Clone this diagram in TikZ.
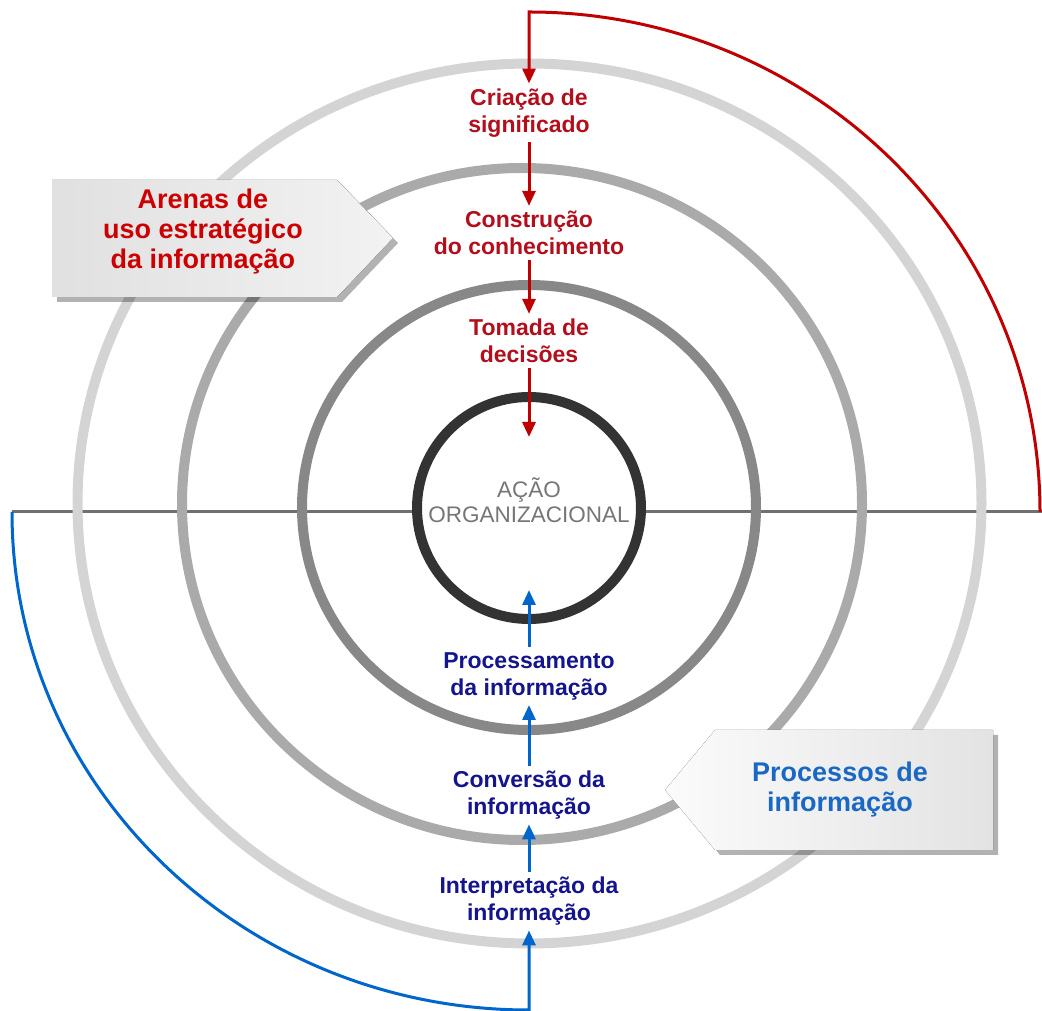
\documentclass[tikz,border=0pt]{standalone}
\usepackage{fontspec}
\setmainfont{Liberation Sans}
\usetikzlibrary{arrows.meta,shadows}

\definecolor{arenared}{RGB}{204,0,0}
\definecolor{stepred}{RGB}{178,14,28}
\definecolor{arrowred}{RGB}{192,0,0}
\definecolor{procblue}{RGB}{24,104,196}
\definecolor{stepblue}{RGB}{20,20,140}
\definecolor{arrowblue}{RGB}{0,102,204}
\definecolor{ringouter}{RGB}{212,212,212}
\definecolor{ringthird}{RGB}{170,170,170}
\definecolor{ringsecond}{RGB}{136,136,136}
\definecolor{ringinner}{RGB}{51,51,51}
\definecolor{axisgray}{RGB}{112,112,112}
\definecolor{coregray}{RGB}{118,118,118}

\begin{document}
\begin{tikzpicture} [
		x=1pt, y=1pt,
		every node/.style={align=center, inner sep=5pt},
		ring/.style={line width=10pt},
		axis/.style={draw=axisgray, line width=3pt},
		redstep/.style={text=stepred, font=\fontsize{23}{27}\selectfont\bfseries},
		bluestep/.style={text=stepblue, font=\fontsize{23}{27}\selectfont\bfseries},
		core/.style={text=coregray, font=\fontsize{22.5}{25}\selectfont},
		redflow/.style={draw=arrowred, line width=3pt, -{Triangle[length=15pt,width=13pt]}},
		blueflow/.style={draw=arrowblue, line width=3pt, -{Triangle[length=15pt,width=13pt]}},
		banner/.style={drop shadow={shadow xshift=5pt, shadow yshift=-5pt, opacity=0.3, fill=black}},
		bannertext/.style={font=\fontsize{27}{30}\selectfont\bfseries}
	]
	\useasboundingbox (0,0) rectangle (1042,1010);

	\coordinate (redend) at (1040,498);
	\coordinate (redtip) at (529,573);
	\coordinate (bluestart) at (12,498);
	\coordinate (bluetip) at (529,420);

	\draw[axis] (bluestart) -- (1042,498);

	\draw[ring, draw=ringouter] (529.5,506.5) ellipse [x radius=452, y radius=440];
	\draw[ring, draw=ringthird] (522,506) ellipse [x radius=340, y radius=336];
	\draw[ring, draw=ringsecond] (529,502.5) ellipse [x radius=227, y radius=222.5];
	\draw[ring, draw=ringinner, fill=white] (529,502) ellipse [x radius=112, y radius=111];

	\fill[banner, left color=gray!24, right color=gray!10]
		(52,830) -- (337,830) -- (393,772) -- (337,713) -- (52,713) -- cycle;
	\fill[banner, left color=gray!3, right color=gray!22]
		(715,280) -- (993,280) -- (993,160) -- (715,160) -- (665,220) -- cycle;

	\node (arenas) [bannertext, text=arenared] at (203,778) {Arenas de\\uso estratégico\\da informação};
	\node (procs) [bannertext, text=procblue] at (840,220) {Processos de\\informação};

	\node (crit) [redstep] at (529,897) {Criação de\\significado};
	\node (constr) [redstep] at (529,777) {Construção\\do conhecimento};
	\node (tomada) [redstep] at (529,669) {Tomada de\\decisões};
	\node (acao) [core] at (529,510) {AÇÃO\\ORGANIZACIONAL};
	\node (proc) [bluestep] at (529,334) {Processamento\\da informação};
	\node (conv) [bluestep] at (529,215) {Conversão da\\informação};
	\node (interp) [bluestep] at (529,109) {Interpretação da\\informação};

	\draw[redflow] (redend) arc [start angle=0, end angle=90, x radius=511, y radius=500] -- (crit.north);
	\draw[redflow] (crit) -- (constr);
	\draw[redflow] (constr) -- (tomada);
	\draw[redflow] (tomada) -- (redtip);

	\draw[blueflow] (bluestart) arc [start angle=180, end angle=270, x radius=517, y radius=498] -- (interp.south);
	\draw[blueflow] (interp) -- (conv);
	\draw[blueflow] (conv) -- (proc);
	\draw[blueflow] (proc) -- (bluetip);

\end{tikzpicture}
\end{document}
